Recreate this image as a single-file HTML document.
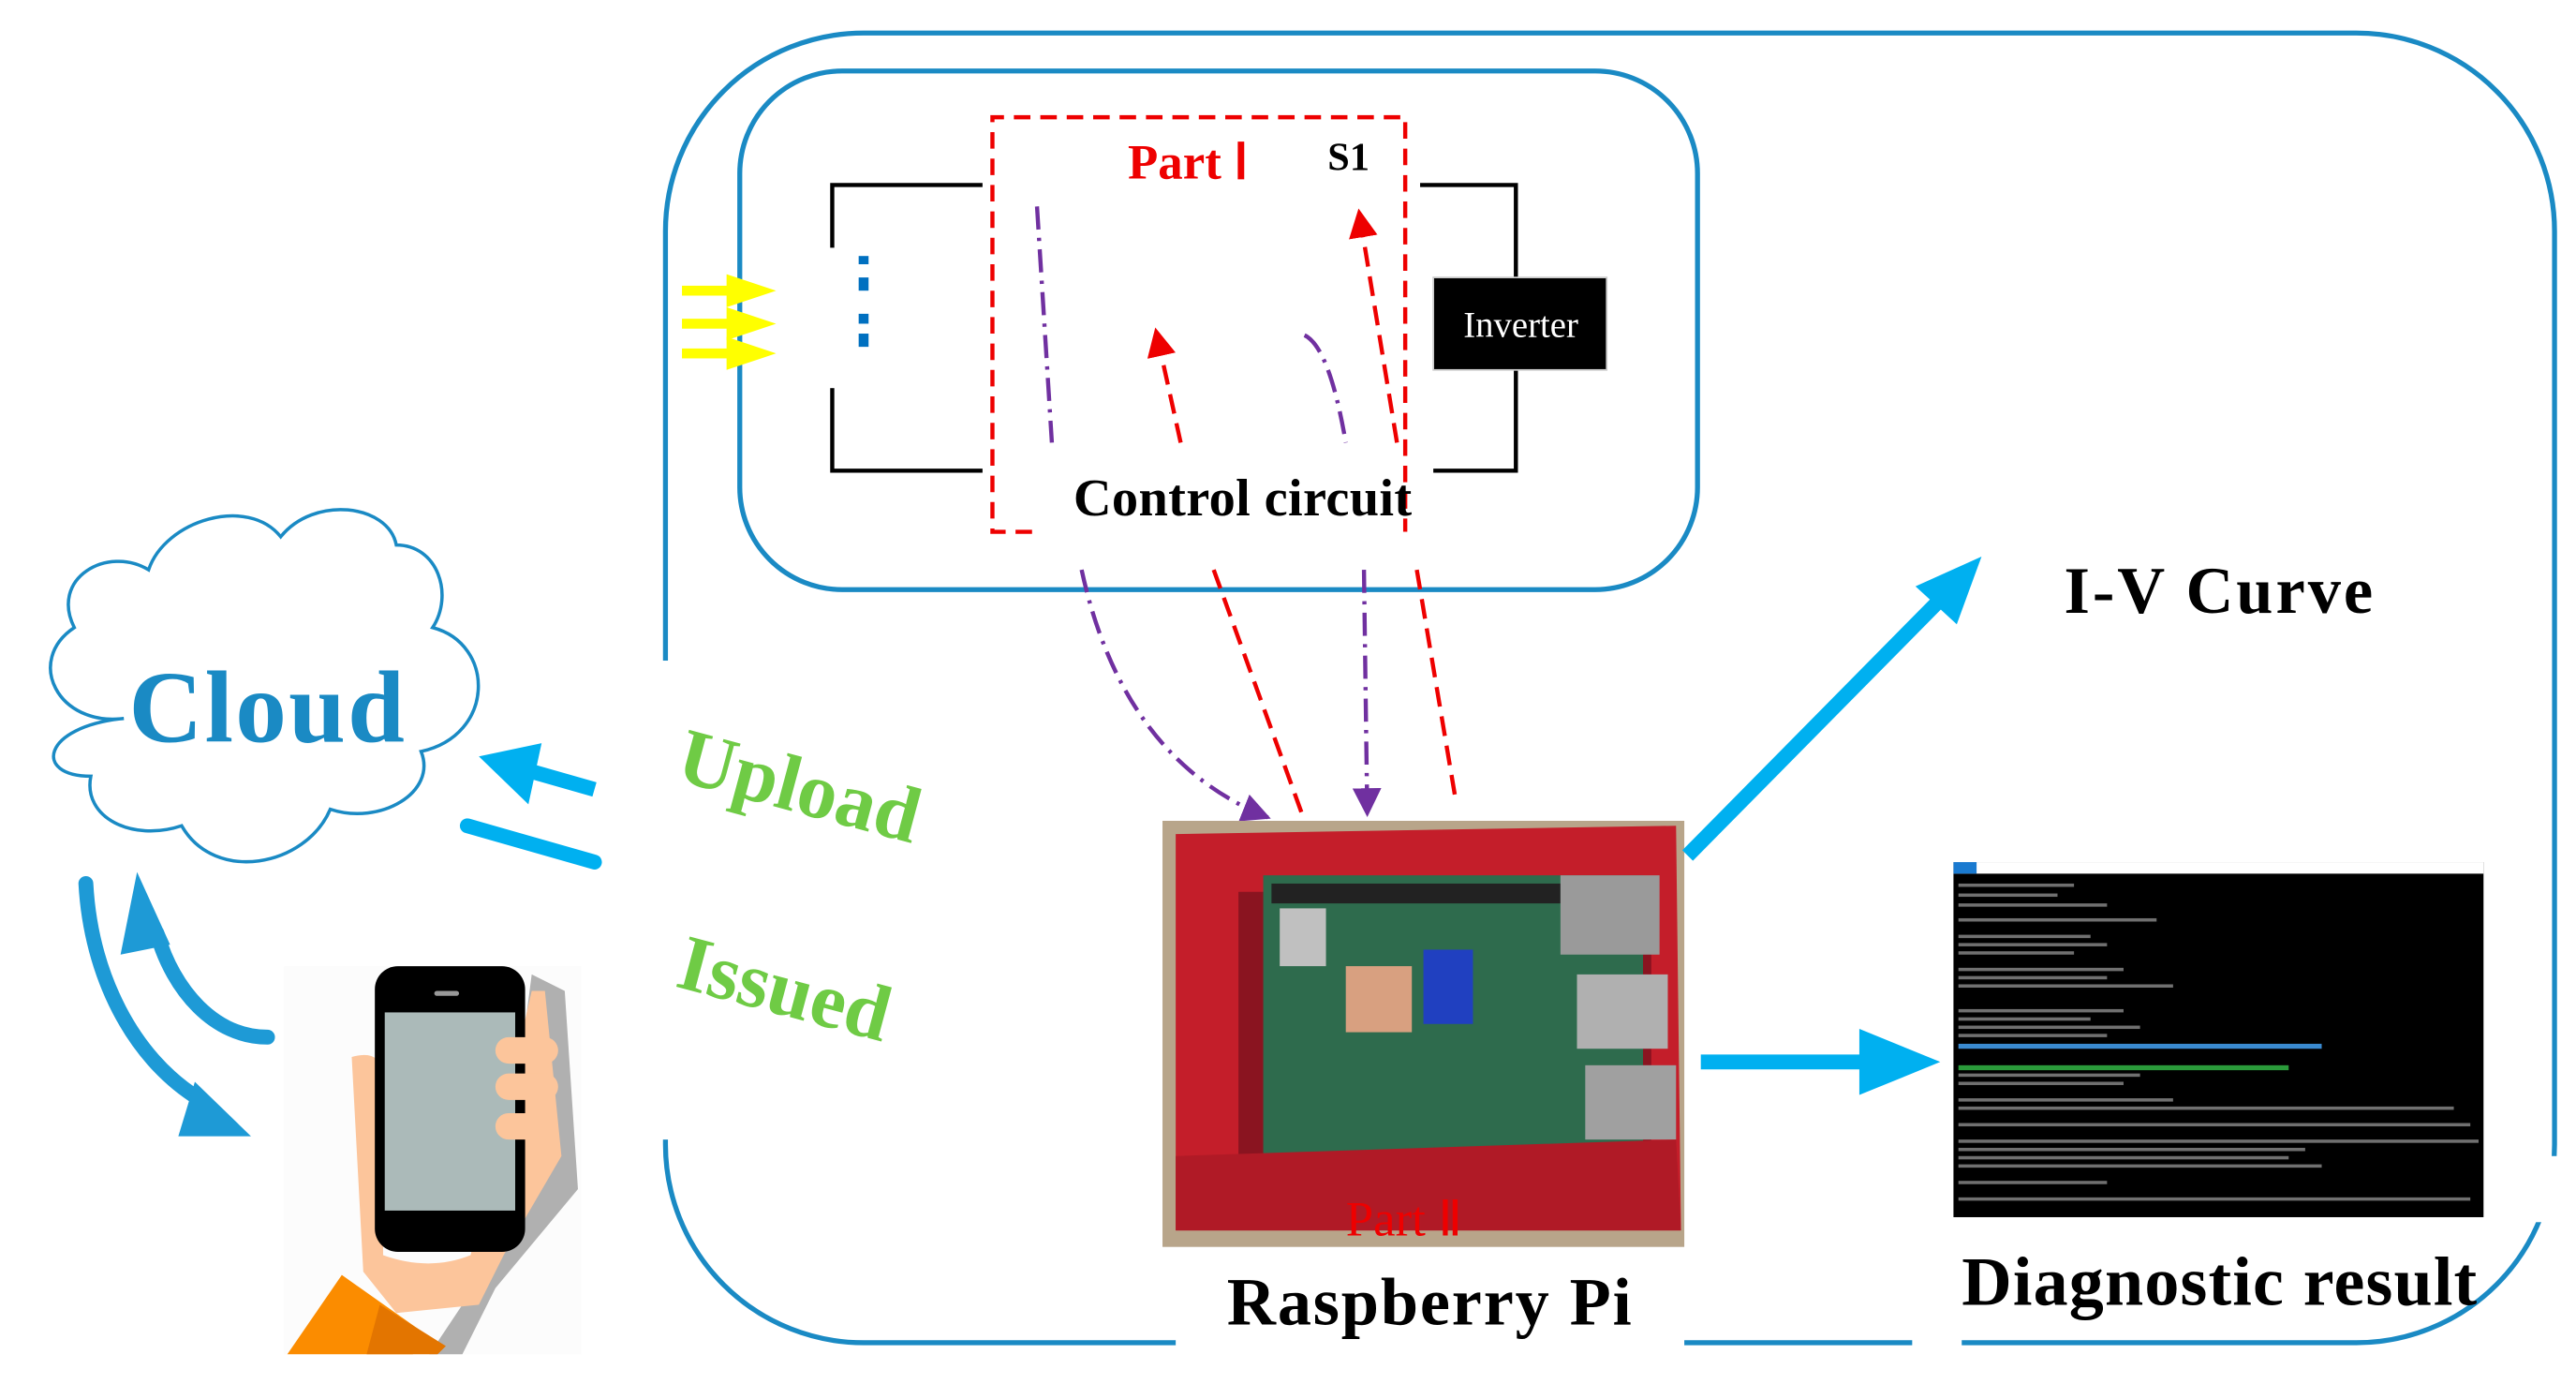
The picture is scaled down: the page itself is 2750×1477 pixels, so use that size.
<!DOCTYPE html>
<html><head><meta charset="utf-8"><style>
html,body{margin:0;padding:0;background:#fff;}
svg{display:block;}
text{font-family:"Liberation Serif",serif;font-weight:bold;}
</style></head><body>
<svg width="2750" height="1477" viewBox="0 0 1560 838" preserveAspectRatio="none" xmlns="http://www.w3.org/2000/svg">
<defs>
<marker id="ar" viewBox="0 0 10 10" refX="9" refY="5" markerWidth="7" markerHeight="7" orient="auto"><path d="M0,0L10,5L0,10z" fill="#e00"/></marker>
<marker id="ap" viewBox="0 0 10 10" refX="9" refY="5" markerWidth="7" markerHeight="7" orient="auto"><path d="M0,0L10,5L0,10z" fill="#7030a0"/></marker>
</defs>
<rect x="403" y="20" width="1144" height="793" rx="120" fill="none" stroke="#1a8ac4" stroke-width="3"/>
<rect x="395" y="400" width="20" height="290" fill="#fff"/>
<rect x="712" y="800" width="308" height="20" fill="#fff"/>
<rect x="1158" y="800" width="30" height="20" fill="#fff"/>
<rect x="1535" y="700" width="20" height="40" fill="#fff"/>
<rect x="448" y="43" width="580" height="314" rx="62" fill="none" stroke="#1a8ac4" stroke-width="3"/>
<path d="M595,112H504V285H595" fill="none" stroke="#000" stroke-width="2.5"/>
<path d="M860,112H918V285H868" fill="none" stroke="#000" stroke-width="2.5"/>
<rect x="868" y="168" width="105" height="56" fill="#000" stroke="#ccc" stroke-width="1"/>
<text x="921" y="204" font-size="22" fill="#fff" text-anchor="middle" style="font-weight:normal">Inverter</text>
<rect x="482" y="150" width="45" height="85" fill="#fff"/>
<g fill="#0070c0"><rect x="520" y="155" width="6" height="5"/><rect x="520" y="168" width="6" height="8"/><rect x="520" y="190" width="6" height="6"/><rect x="520" y="202" width="6" height="8"/></g>
<g fill="#ffff00">
<rect x="413" y="173" width="30" height="6"/><path d="M440,166L470,176L440,186z"/>
<rect x="413" y="193" width="30" height="6"/><path d="M440,186L470,196L440,206z"/>
<rect x="413" y="211" width="30" height="6"/><path d="M440,204L470,214L440,224z"/>
</g>
<path d="M625,322H601V71H851V322" fill="none" stroke="#e00" stroke-width="2.5" stroke-dasharray="10,6"/>
<text x="683" y="108" font-size="30" fill="#e00">Part Ⅰ</text>
<text x="804" y="103" font-size="24" fill="#000">S1</text>
<text x="650" y="312" font-size="32" fill="#000" textLength="205">Control circuit</text>
<path d="M628,125L637,268" stroke="#7030a0" stroke-width="2.5" fill="none" stroke-dasharray="14,5,2,5"/>
<path d="M715,268L700,200" stroke="#e00" stroke-width="2.5" fill="none" stroke-dasharray="12,6" marker-end="url(#ar)"/>
<path d="M790,203Q805,210 815,268" stroke="#7030a0" stroke-width="2.5" fill="none" stroke-dasharray="14,5,2,5"/>
<path d="M846,268L823,128" stroke="#e00" stroke-width="2.5" fill="none" stroke-dasharray="12,6" marker-end="url(#ar)"/>
<path d="M655,345Q680,460 768,495" stroke="#7030a0" stroke-width="2.5" fill="none" stroke-dasharray="14,5,2,5" marker-end="url(#ap)"/>
<path d="M735,345L790,497" stroke="#e00" stroke-width="2.5" fill="none" stroke-dasharray="12,6"/>
<path d="M826,345L828,493" stroke="#7030a0" stroke-width="2.5" fill="none" stroke-dasharray="14,5,2,5" marker-end="url(#ap)"/>
<path d="M858,345L882,487" stroke="#e00" stroke-width="2.5" fill="none" stroke-dasharray="12,6"/>
<rect x="704" y="497" width="316" height="258" fill="#b8a58a"/>
<path d="M712,505L1015,500L1018,745L712,745z" fill="#c41e2a"/>
<rect x="750" y="540" width="250" height="170" fill="#8a1420"/>
<rect x="765" y="530" width="230" height="170" fill="#2e6b4d"/>
<rect x="770" y="535" width="175" height="12" fill="#222"/>
<rect x="945" y="530" width="60" height="48" fill="#9a9a9a"/>
<rect x="955" y="590" width="55" height="45" fill="#b0b0b0"/>
<rect x="960" y="645" width="55" height="45" fill="#a0a0a0"/>
<rect x="815" y="585" width="40" height="40" fill="#d8a080"/>
<rect x="862" y="575" width="30" height="45" fill="#2040c0"/>
<rect x="775" y="550" width="28" height="35" fill="#c0c0c0"/>
<path d="M712,700L1015,690L1018,745L712,745z" fill="#b01a26"/>
<text x="815" y="748" font-size="30" fill="#e00" style="font-weight:normal">Part Ⅱ</text>
<text x="743" y="802" font-size="41" fill="#000" textLength="245">Raspberry Pi</text>
<path d="M1022,518L1180,358" stroke="#00b0f0" stroke-width="9" fill="none"/>
<path d="M1200,337L1160,355L1185,378z" fill="#00b0f0"/>
<text x="1250" y="371" font-size="40" fill="#000" textLength="187">I-V Curve</text>
<path d="M1030,643H1140" stroke="#00b0f0" stroke-width="9"/>
<path d="M1175,643L1126,623L1126,663z" fill="#00b0f0"/>
<rect x="1183" y="522" width="321" height="215" fill="#000"/>
<rect x="1183" y="522" width="321" height="7" fill="#fff"/><rect x="1183" y="522" width="14" height="7" fill="#1a7ad0"/>
<g fill="#bbb" opacity="0.6">
<rect x="1186" y="535" width="70" height="2"/><rect x="1186" y="541" width="60" height="2"/><rect x="1186" y="547" width="90" height="2"/>
<rect x="1186" y="556" width="120" height="2"/><rect x="1186" y="566" width="80" height="2"/><rect x="1186" y="571" width="90" height="2"/><rect x="1186" y="576" width="70" height="2"/>
<rect x="1186" y="586" width="100" height="2"/><rect x="1186" y="591" width="90" height="2"/><rect x="1186" y="596" width="130" height="2"/>
<rect x="1186" y="611" width="100" height="2"/><rect x="1186" y="616" width="80" height="2"/><rect x="1186" y="621" width="110" height="2"/><rect x="1186" y="626" width="90" height="2"/>
<rect x="1186" y="650" width="110" height="2"/><rect x="1186" y="655" width="100" height="2"/><rect x="1186" y="665" width="130" height="2"/>
<rect x="1186" y="670" width="300" height="2"/><rect x="1186" y="680" width="310" height="2"/><rect x="1186" y="690" width="315" height="2"/>
<rect x="1186" y="695" width="210" height="2"/><rect x="1186" y="700" width="200" height="2"/><rect x="1186" y="705" width="220" height="2"/>
<rect x="1186" y="715" width="90" height="2"/><rect x="1186" y="725" width="310" height="2"/>
</g>
<rect x="1186" y="632" width="220" height="3" fill="#3a8ad0"/>
<rect x="1186" y="645" width="200" height="3" fill="#2a9a3a"/>
<text x="1188" y="790" font-size="42" fill="#000" textLength="312">Diagnostic result</text>
<path d="M75,435C35,440 15,400 45,380C30,350 65,330 90,345C100,315 150,300 170,325C190,300 235,305 240,330C265,330 275,360 262,380C300,390 300,445 255,455C265,480 230,500 200,490C185,525 130,535 110,500C80,510 50,495 55,470C20,470 25,440 75,435z" fill="none" stroke="#1a8ac4" stroke-width="2"/>
<text x="78" y="449" font-size="62" fill="#1a8ac4" textLength="167">Cloud</text>
<path d="M360,478L318,466" stroke="#00b0f0" stroke-width="9"/>
<path d="M290,458L328,450L320,487z" fill="#00b0f0"/>
<path d="M283,500L360,522" stroke="#00b0f0" stroke-width="9" stroke-linecap="round"/>
<text x="0" y="0" font-size="48" fill="#6fcb45" transform="translate(408,472) rotate(15)">Upload</text>
<text x="0" y="0" font-size="48" fill="#6fcb45" transform="translate(408,597) rotate(15)">Issued</text>
<path d="M52,535C55,590 80,640 120,665" stroke="#1e9ad6" stroke-width="9" fill="none" stroke-linecap="round"/>
<path d="M152,688L108,688L118,655z" fill="#1e9ad6"/>
<path d="M162,628C130,628 105,600 95,565" stroke="#1e9ad6" stroke-width="9" fill="none" stroke-linecap="round"/>
<path d="M83,528L73,578L103,572z" fill="#1e9ad6"/>
<rect x="172" y="585" width="180" height="235" fill="#fcfcfc"/>
<path d="M322,590L342,600L350,720L300,780L280,820L260,820L300,760z" fill="#b0b0b0"/>
<path d="M213,640Q230,635 232,650L232,760Q260,770 285,760L322,600L330,600L340,700L305,760L290,790L240,795L220,770z" fill="#fcc59b"/>
<path d="M207,772L258,808L250,820L174,820z" fill="#fb8c00"/>
<path d="M230,790L270,815L265,820L222,820z" fill="#e37500"/>
<rect x="227" y="585" width="91" height="173" rx="14" fill="#000"/>
<rect x="233" y="613" width="79" height="120" fill="#abbab9"/>
<rect x="263" y="600" width="15" height="3" rx="1.5" fill="#999"/>
<rect x="300" y="628" width="38" height="16" rx="8" fill="#fcc59b"/>
<rect x="300" y="650" width="38" height="16" rx="8" fill="#fcc59b"/>
<rect x="300" y="674" width="38" height="16" rx="8" fill="#fcc59b"/>
</svg>
</body></html>
